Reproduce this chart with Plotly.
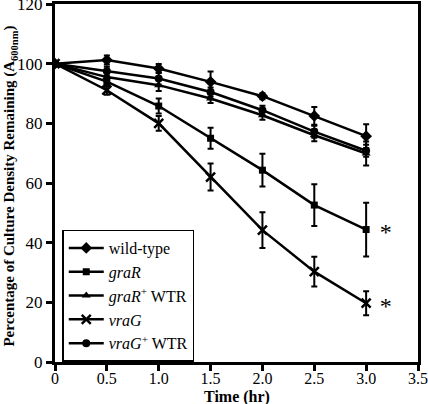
import plotly.graph_objects as go

time_hr = [0, 0.5, 1.0, 1.5, 2.0, 2.5, 3.0]

wild_type = [100, 101.2, 98.4, 93.9, 89.1, 82.5, 75.7]
wild_type_err = [0, 1.5, 1.5, 3.5, 1.0, 3.0, 4.0]

graR = [100, 94.0, 85.8, 75.0, 64.3, 52.6, 44.4]
graR_err = [0, 1.5, 2.5, 3.5, 5.5, 7.0, 9.0]

graR_wtr = [100, 95.5, 92.8, 88.3, 82.7, 76.0, 69.9]
graR_wtr_err = [0, 1.5, 2.0, 1.5, 1.5, 2.0, 4.0]

vraG = [100, 91.1, 80.0, 62.0, 44.2, 30.3, 19.7]
vraG_err = [0, 1.5, 2.5, 4.5, 6.0, 5.0, 4.0]

vraG_wtr = [100, 97.5, 95.0, 90.5, 84.4, 77.2, 70.8]
vraG_wtr_err = [0, 1.5, 2.0, 1.5, 1.5, 2.0, 2.0]

series_names = ["wild-type", "<i>graR</i>", "<i>graR</i><sup>+</sup> WTR", "<i>vraG</i>", "<i>vraG</i><sup>+</sup> WTR"]
series_vals = [wild_type, graR, graR_wtr, vraG, vraG_wtr]
series_errs = [wild_type_err, graR_err, graR_wtr_err, vraG_err, vraG_wtr_err]
symbols = ["diamond", "square", "triangle-up", "x-thin", "circle"]
sizes = [9, 7, 8, 9, 8]

x_ticks = [0, 0.5, 1.0, 1.5, 2.0, 2.5, 3.0, 3.5]
x_tick_text = ["0", "0.5", "1.0", "1.5", "2.0", "2.5", "3.0", "3.5"]
y_ticks = [0, 20, 40, 60, 80, 100, 120]

asterisk_y = [graR[-1], vraG[-1]]

x_title = "<b>Time (hr)</b>"
y_title = "<b>Percentage of Culture Density Remaining (A<sub>600nm</sub>)</b>"

FONT = "Liberation Serif, Times New Roman, serif"

fig = go.Figure()
for name, vals, errs, sym, sz in zip(series_names, series_vals, series_errs, symbols, sizes):
    fig.add_trace(go.Scatter(
        x=time_hr, y=vals, name=name, mode="lines+markers",
        line=dict(color="black", width=2.5),
        marker=dict(symbol=sym, size=sz, color="black",
                    line=dict(color="black", width=2.5 if sym == "x-thin" else 0)),
        error_y=dict(type="data", array=errs, color="black", thickness=2, width=3),
    ))

# significance asterisks
fig.add_trace(go.Scatter(
    x=[time_hr[-1] + 0.19] * len(asterisk_y), y=[v - 1.5 for v in asterisk_y],
    mode="text", text=["*"] * len(asterisk_y), showlegend=False, hoverinfo="skip",
    textfont=dict(family=FONT, size=24, color="black"),
))

# axis titles placed as annotations for exact positioning
fig.add_annotation(x=0.5, y=-35 / 358, xref="paper", yref="paper", text=x_title,
                   showarrow=False, xanchor="center", yanchor="middle",
                   font=dict(family=FONT, size=16, color="black"))
fig.add_annotation(x=-45 / 363, y=0.49, xref="paper", yref="paper", text=y_title,
                   showarrow=False, xanchor="center", yanchor="middle", textangle=-90,
                   font=dict(family=FONT, size=15, color="black"))

fig.update_layout(
    width=428, height=404,
    margin=dict(l=55, r=10, t=4, b=42, autoexpand=False),
    paper_bgcolor="white", plot_bgcolor="white",
    font=dict(family=FONT, size=15, color="black"),
    showlegend=True,
    legend=dict(x=0.02, y=0.37, xanchor="left", yanchor="top",
                bordercolor="black", borderwidth=1.5, bgcolor="white",
                font=dict(family=FONT, size=16, color="black"),
                itemwidth=35, tracegroupgap=0),
)
fig.update_xaxes(
    range=[0, 3.5], tickvals=x_ticks, ticktext=x_tick_text, automargin=False,
    showgrid=False, zeroline=False, showline=True, linecolor="black", linewidth=3,
    mirror=True, ticks="outside", ticklen=6, tickwidth=2.5, tickcolor="black",
    tickfont=dict(family=FONT, size=16), ticklabelstandoff=-6, ticklabeloverflow="allow",
)
fig.update_yaxes(
    range=[0, 120], tickvals=y_ticks, automargin=False,
    showgrid=False, zeroline=False, showline=True, linecolor="black", linewidth=3,
    mirror=True, ticks="outside", ticklen=6, tickwidth=2.5, tickcolor="black",
    tickfont=dict(family=FONT, size=17), ticklabeloverflow="allow",
)

fig.write_html("out.html", post_script="document.body.style.margin='0';",
               config={"displayModeBar": False})
